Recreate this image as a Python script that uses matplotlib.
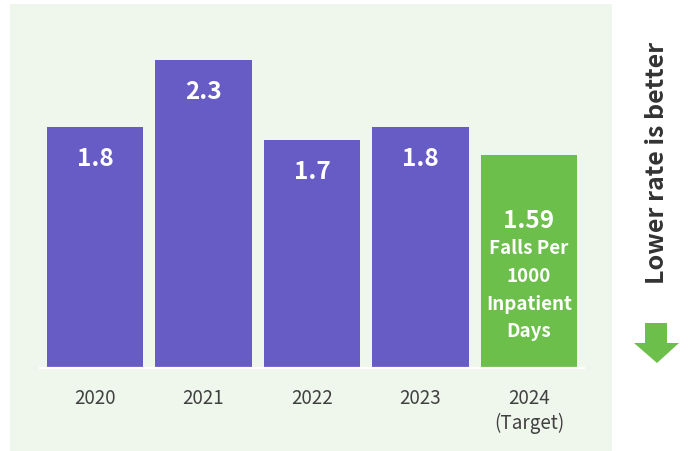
import matplotlib
matplotlib.use("Agg")
import matplotlib.pyplot as plt
from matplotlib.patches import Rectangle, Polygon

plt.rcParams['font.family'] = ['Noto Sans CJK SC', 'DejaVu Sans']

years = ["2020", "2021", "2022", "2023", "2024"]
sublabels = ["", "", "", "", "(Target)"]
values = [1.8, 2.3, 1.7, 1.8, 1.59]
value_labels = ["1.8", "2.3", "1.7", "1.8", "1.59"]
target_note = ["Falls Per", "1000", "Inpatient", "Days"]

PURPLE = "#675bc6"
GREEN = "#6cbf4a"
PANEL = "#eff7ec"
TXT = "#404040"

W, H = 694, 451
fig = plt.figure(figsize=(W / 100, H / 100), dpi=100)
fig.patch.set_facecolor("white")

def fx(px):
    return px / W

def fy(py):
    return 1 - py / H

# background panel
fig.patches.append(Rectangle((fx(10), fy(451)), fx(612) - fx(10), fy(4) - fy(451),
                             transform=fig.transFigure, facecolor=PANEL,
                             edgecolor="none", zorder=-5))

scale = 133.4  # px per unit
base_px = 367
top_px = 4
left_px, right_px = 40, 584
ax = fig.add_axes([fx(left_px), fy(base_px), fx(right_px) - fx(left_px), (base_px - top_px) / H])
ax.set_zorder(2)
ax.set_xlim(-0.507, 4.507)
ax.set_ylim(0, (base_px - top_px) / scale)
ax.set_facecolor("none")
ax.axis("off")

x = list(range(len(years)))
colors = [PURPLE] * 4 + [GREEN]
ax.bar(x, values, width=0.885, color=colors, zorder=2)
ax.axhline(-1.3 / scale, color="white", lw=1.6, zorder=3, clip_on=False)

for i, (v, lab) in enumerate(zip(values, value_labels)):
    if i < 4:
        ax.text(i, v - 32 / scale, lab, ha="center", va="center", color="white",
                fontsize=17.5, fontweight="bold", zorder=4)
    else:
        ax.text(i, v - 66 / scale, lab, ha="center", va="center", color="white",
                fontsize=17.5, fontweight="bold", zorder=4)
        for k, t in enumerate(target_note):
            ax.text(i, v - (94 + 27.7 * k) / scale, t, ha="center", va="center",
                    color="white", fontsize=13.5, fontweight="bold", zorder=4)

for i, (yr, sub) in enumerate(zip(years, sublabels)):
    ax.text(i, -31 / scale, yr, ha="center", va="center", color=TXT,
            fontsize=13.5, clip_on=False)
    if sub:
        ax.text(i, -56 / scale, sub, ha="center", va="center", color=TXT,
                fontsize=13.5, clip_on=False)

# side note
fig.text(fx(657), fy(163), "Lower rate is better", rotation=90, ha="center", va="center",
         color="#333333", fontsize=18, fontweight="bold")

arrow = [(645, 323), (667, 323), (667, 343), (679, 343), (657, 363), (634, 343), (645, 343)]
fig.patches.append(Polygon([(fx(a), fy(b)) for a, b in arrow], closed=True,
                           transform=fig.transFigure, facecolor=GREEN, edgecolor="none"))

fig.savefig("out.png", dpi=100)
